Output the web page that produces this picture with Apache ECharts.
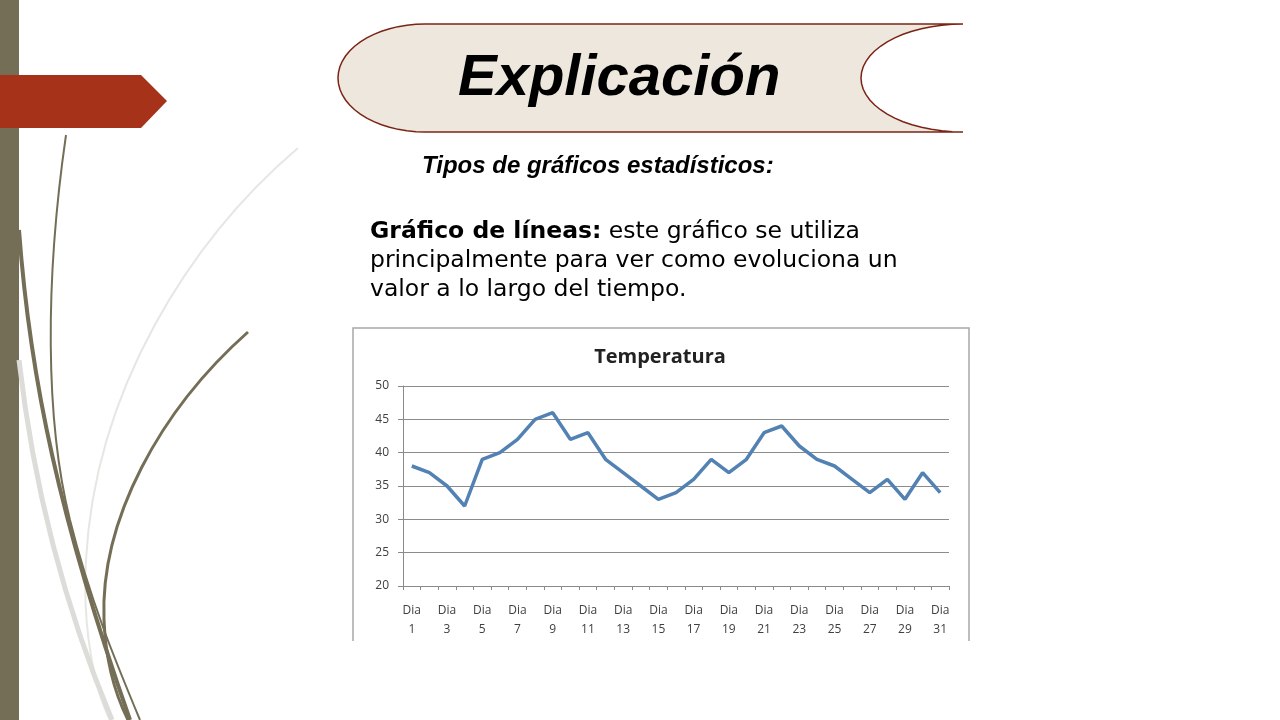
<!DOCTYPE html>
<html>
<head>
<meta charset="utf-8">
<style>
    html, body { margin: 0; padding: 0; background: #fff; }
    #slide { width: 1280px; height: 720px; }
</style>
</head>
<body>
<div id="slide"></div>
<script src="https://cdn.jsdelivr.net/npm/echarts@6/dist/echarts.min.js"></script>
<script>
    // datos del gráfico
    var dias = ['Dia 1', 'Dia 2', 'Dia 3', 'Dia 4', 'Dia 5', 'Dia 6', 'Dia 7', 'Dia 8',
        'Dia 9', 'Dia 10', 'Dia 11', 'Dia 12', 'Dia 13', 'Dia 14', 'Dia 15', 'Dia 16',
        'Dia 17', 'Dia 18', 'Dia 19', 'Dia 20', 'Dia 21', 'Dia 22', 'Dia 23', 'Dia 24',
        'Dia 25', 'Dia 26', 'Dia 27', 'Dia 28', 'Dia 29', 'Dia 30', 'Dia 31'];
    var temperatura = [38, 37, 35, 32, 39, 40, 42, 45, 46, 42, 43, 39, 37, 35, 33, 34,
        36, 39, 37, 39, 43, 44, 41, 39, 38, 36, 34, 36, 33, 37, 34];
    var yMin = 20, yMax = 50, yPaso = 5;

    var slide = echarts.init(document.getElementById('slide'));

    var olivo = '#756e57';
    var gris = '#dcdcd8';

    // contorno de la cinta del título (extremo izquierdo redondo, derecho cóncavo)
    function cinta() {
        var pts = [], i, a;
        for (i = 0; i <= 30; i++) {
            a = Math.PI / 2 + Math.PI * i / 30; // lado derecho, hueco hacia dentro
            pts.push([963 + 102 * Math.cos(a), 78 - 54 * Math.sin(a)]);
        }
        for (i = 0; i <= 30; i++) {
            a = -Math.PI / 2 - Math.PI * i / 30; // lado izquierdo, redondo
            pts.push([425 + 87 * Math.cos(a), 78 - 54 * Math.sin(a)]);
        }
        return pts;
    }

    function curva(p, ancho, color, z) {
        return {
            type: 'bezierCurve', z: z,
            shape: { x1: p[0], y1: p[1], cpx1: p[2], cpy1: p[3], cpx2: p[4], cpy2: p[5], x2: p[6], y2: p[7] },
            style: { fill: null, stroke: color, lineWidth: ancho }
        };
    }

    var option = {
        backgroundColor: '#ffffff',
        animation: false,
        title: {
            text: 'Temperatura',
            left: 655,
            top: 342,
            textAlign: 'center',
            textStyle: { fontFamily: 'Open Sans', fontWeight: 'bold', fontSize: 20, color: '#222' }
        },
        grid: { left: 403, top: 386, width: 546, height: 200 },
        xAxis: {
            type: 'category',
            data: dias,
            boundaryGap: true,
            axisLine: { lineStyle: { color: '#8a8a8a' } },
            axisTick: { show: true, interval: 0, length: 4, lineStyle: { color: '#8a8a8a' } },
            axisLabel: {
                interval: 1,
                margin: 15,
                lineHeight: 19,
                color: '#404040',
                fontFamily: 'Open Sans',
                fontSize: 12,
                formatter: function (v) { return v.replace(' ', '\n'); }
            }
        },
        yAxis: {
            type: 'value',
            min: yMin,
            max: yMax,
            interval: yPaso,
            axisLine: { show: true, lineStyle: { color: '#8a8a8a' } },
            axisTick: { show: true, length: 5, lineStyle: { color: '#8a8a8a' } },
            axisLabel: { color: '#404040', fontFamily: 'Open Sans', fontSize: 12, margin: 14 },
            splitLine: { lineStyle: { color: '#8c8c8c', width: 1 } }
        },
        series: [{
            name: 'Temperatura',
            type: 'line',
            data: temperatura,
            symbol: 'none',
            lineStyle: { color: '#5281b3', width: 3.5 }
        }],
        graphic: [
            // franja izquierda y flecha
            { type: 'rect', z: -10, shape: { x: 0, y: 0, width: 19, height: 720 }, style: { fill: olivo } },
            { type: 'polygon', z: -5, shape: { points: [[0, 75], [141, 75], [167, 101], [141, 128], [0, 128]] },
              style: { fill: '#a6321a' } },
            // curvas decorativas
            curva([298, 148, 190, 240, 95, 390, 86, 560], 2, '#e6e6e3', -9),
            curva([86, 560, 82, 630, 95, 690, 110, 720], 2, '#e6e6e3', -9),
            curva([19, 360, 35, 500, 70, 620, 112, 720], 5, gris, -9),
            curva([66, 135, 45, 280, 45, 420, 70, 520], 2, olivo, -8),
            curva([70, 520, 90, 600, 115, 660, 140, 720], 2, olivo, -8),
            curva([19, 230, 30, 380, 60, 520, 130, 720], 4, olivo, -8),
            curva([248, 332, 160, 410, 100, 520, 104, 620], 3, olivo, -8),
            curva([104, 620, 106, 670, 118, 700, 128, 720], 3, olivo, -8),
            // cinta del título
            { type: 'polygon', z: -6, shape: { points: cinta() },
              style: { fill: '#ede7dd', stroke: '#7b2416', lineWidth: 1.5 } },
            { type: 'text', left: 458, top: 50, style: {
                text: 'Explicación', fill: '#000',
                font: 'italic bold 58px "Liberation Sans", Arial'
            } },
            { type: 'text', left: 422, top: 154, style: {
                text: 'Tipos de gráficos estadísticos:', fill: '#000',
                font: 'italic bold 24px "Liberation Sans", Arial'
            } },
            { type: 'text', left: 370, top: 217, style: {
                text: '{b|Gráfico de líneas:} este gráfico se utiliza\nprincipalmente para ver como evoluciona un\nvalor a lo largo del tiempo.',
                fill: '#000',
                font: '23.5px "DejaVu Sans"',
                lineHeight: 29,
                rich: {
                    b: { fontWeight: 'bold', fontSize: 23.5, fontFamily: 'DejaVu Sans', lineHeight: 29 }
                }
            } },
            // marco del gráfico
            { type: 'rect', z: -4, shape: { x: 354, y: 329, width: 614, height: 312 }, style: { fill: '#fff' } },
            { type: 'polyline', z: -3, shape: { points: [[353, 641], [353, 328], [969, 328], [969, 641]] },
              style: { fill: null, stroke: '#a8a8a8', lineWidth: 1.5 } }
        ]
    };

    slide.setOption(option);
</script>
</body>
</html>
